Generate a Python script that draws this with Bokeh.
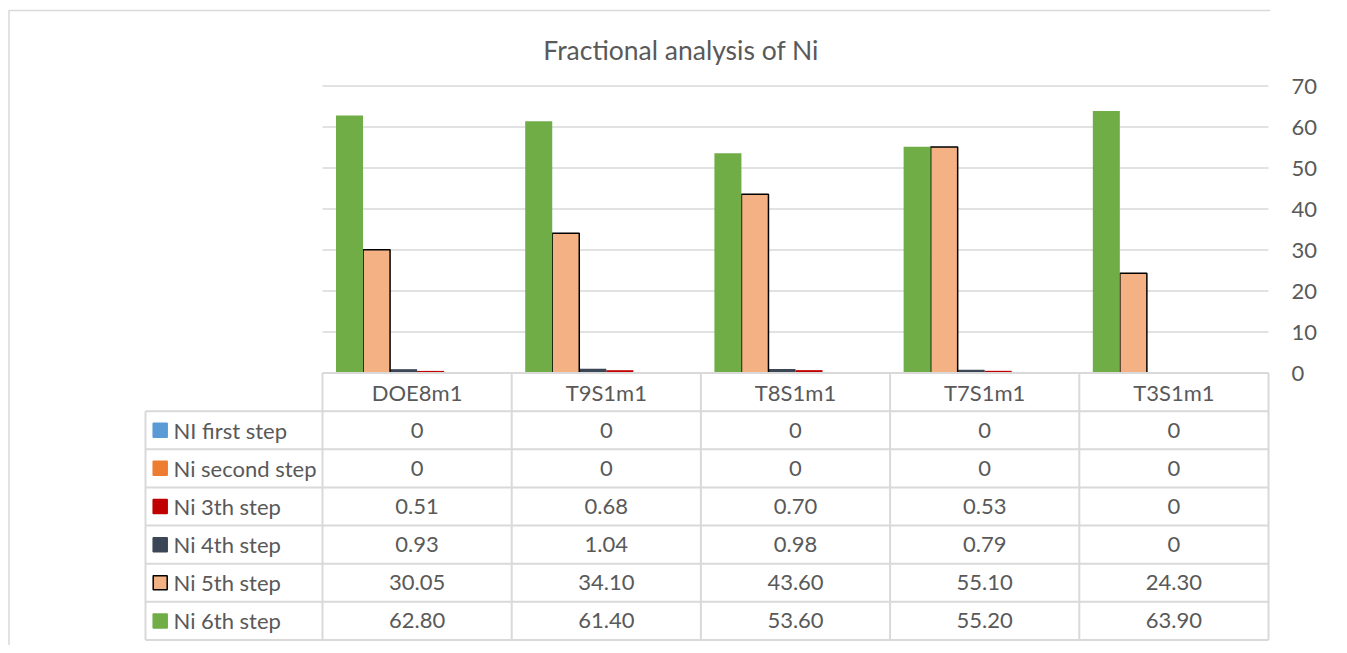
import numpy as np
from bokeh.plotting import figure
from bokeh.models import Range1d
from bokeh.embed import file_html
from bokeh.resources import INLINE
from bokeh.core.properties import value

# ---------------- data ----------------
categories = ["DOE8m1", "T9S1m1", "T8S1m1", "T7S1m1", "T3S1m1"]
series_names = ["NI first step", "Ni second step", "Ni 3th step",
                "Ni 4th step", "Ni 5th step", "Ni 6th step"]
ni_first = [0, 0, 0, 0, 0]
ni_second = [0, 0, 0, 0, 0]
ni_3th = [0.51, 0.68, 0.70, 0.53, 0]
ni_4th = [0.93, 1.04, 0.98, 0.79, 0]
ni_5th = [30.05, 34.10, 43.60, 55.10, 24.30]
ni_6th = [62.80, 61.40, 53.60, 55.20, 63.90]
y_ticks = [0, 10, 20, 30, 40, 50, 60, 70]
title_text = "Fractional analysis  of Ni"

series_values = [ni_first, ni_second, ni_3th, ni_4th, ni_5th, ni_6th]
colors = ["#5B9BD5", "#ED7D31", "#C00000", "#3B4656", "#F4B183", "#70AD47"]
edges = [None, None, None, None, "#000000", None]

FONT = "Lato"
FSIZE = "22px"
TXT = "#595959"
GRID = "#D9D9D9"

n = len(categories)
m = len(series_names)

# ---------------- layout geometry (picture pixels) ----------------
W, H = 1339, 645
ORG_X, ORG_Y = 0, 0            # picture position of canvas
MB_RIGHT = 69
FR_L, FR_T = ORG_X, ORG_Y
FR_R = ORG_X + W - MB_RIGHT
FR_B = ORG_Y + H
X0_PX = 322.0                  # x of category 0 start
PX_X = 946.0 / n               # px per category
Y0_PX = 372.5                  # y of value 0
PX_Y = 4.1                     # px per value unit
ROW_PX = 267.0 / (m + 1)
ROWU = ROW_PX / PX_Y
LEFT_W = 177.0 / PX_X


def X(px):
    return (px - X0_PX) / PX_X


def Y(py):
    return (Y0_PX - py) / PX_Y


p = figure(x_range=Range1d(X(FR_L), X(FR_R)),
           y_range=Range1d(Y(FR_B), Y(FR_T)),
           width=W, height=H,
           min_border_left=0, min_border_right=MB_RIGHT,
           min_border_top=0, min_border_bottom=0,
           x_axis_location=None, y_axis_location="right",
           output_backend="svg", toolbar_location=None, tools="")
p.outline_line_color = None
p.grid.visible = False
ax = p.yaxis[0]
ax.ticker = y_ticks
ax.axis_line_color = None
ax.major_tick_line_color = None
ax.minor_tick_line_color = None
ax.major_tick_out = 0
ax.major_tick_in = 0
ax.major_label_standoff = 21
ax.major_label_text_font = FONT
ax.major_label_text_font_size = FSIZE
ax.major_label_text_color = TXT

# outer chart border (left and top)
p.segment(x0=[X(8.5), X(8)], y0=[Y(FR_B), Y(10)],
          x1=[X(8.5), X(FR_R)], y1=[Y(10), Y(10)],
          line_color=GRID, line_width=1.5)

# horizontal gridlines at the tick values, over the plot area only
p.segment(x0=[0.0] * len(y_ticks), y0=y_ticks,
          x1=[float(n)] * len(y_ticks), y1=y_ticks,
          line_color=GRID, line_width=1.5)

# title
p.text(x=[X(684)], y=[Y(49)], text=[title_text], text_align="center",
       text_baseline="alphabetic", text_font=value(FONT),
       text_font_size="26.5px", text_color=TXT)

# bars
bw = 1.0 / (m + 1)
centers = np.arange(n) + 0.5
for k in range(m):
    off = ((m - 1 - k) - (m - 1) / 2.0) * bw
    p.vbar(x=centers + off, top=series_values[k], bottom=0, width=bw,
           fill_color=colors[k], line_color=edges[k], line_width=1.5)

# ---------------- data table ----------------
rows_y = [-r * ROWU for r in range(m + 2)]
vx = list(np.arange(n + 1, dtype=float)) + [-LEFT_W]
vy0 = [0.0] * (n + 1) + [rows_y[1]]
vy1 = [rows_y[m + 1]] * (n + 2)
hx0 = [0.0] + [-LEFT_W] * (m + 1)
hx1 = [float(n)] * (m + 2)
p.segment(x0=vx, y0=vy0, x1=vx, y1=vy1, line_color=GRID, line_width=2)
p.segment(x0=hx0, y0=rows_y, x1=hx1, y1=rows_y, line_color=GRID, line_width=2)

common = dict(text_font=value(FONT), text_font_size=FSIZE, text_color=TXT,
              text_baseline="middle")
row_c = [-(r + 0.5) * ROWU for r in range(m + 1)]
p.text(x=list(centers), y=[row_c[0]] * n, text=categories,
       text_align="center", **common)


def fmt(v):
    return "0" if v == 0 else "%.2f" % v


cx, cy, ct = [], [], []
for k in range(m):
    for i in range(n):
        cx.append(centers[i])
        cy.append(row_c[k + 1])
        ct.append(fmt(series_values[k][i]))
p.text(x=cx, y=cy, text=ct, text_align="center", **common)

ry = row_c[1:]
p.text(x=[-LEFT_W] * m, y=ry, text=series_names, text_align="left",
       x_offset=28, **common)
p.scatter(x=[X(159.7)] * m, y=ry, marker="square", size=14,
          fill_color=colors,
          line_color=[e if e else c for e, c in zip(edges, colors)],
          line_width=1.5)

open("out.html", "w").write(file_html(p, INLINE))
